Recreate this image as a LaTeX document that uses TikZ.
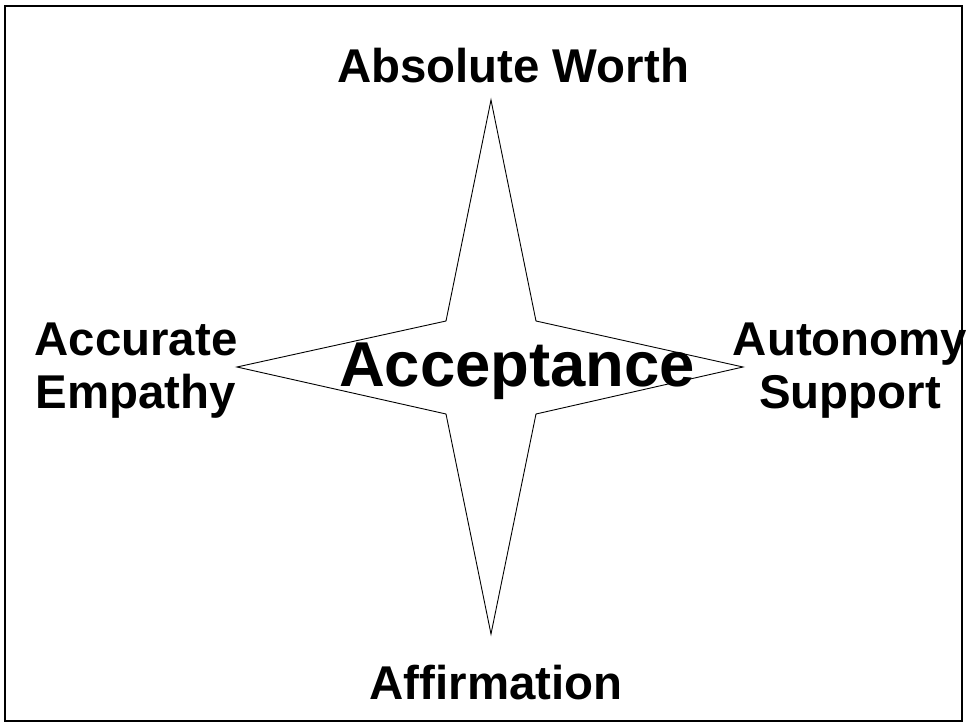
\documentclass[tikz,border=0pt]{standalone}
\usepackage{fontspec}
\setmainfont{Liberation Sans}
\usetikzlibrary{positioning}
\tikzset{
  accept/label/.style={
    font=\fontsize{47.4}{52.5}\selectfont\bfseries,
    align=center, inner sep=0pt, anchor=base
  },
  accept/title/.style={
    font=\fontsize{63.4}{70}\selectfont\bfseries,
    inner sep=0pt, anchor=base
  },
  accept/star/.style={draw=black, line width=.9pt, line join=miter},
  accept/frame/.style={draw=black, line width=2pt}
}

\begin{document}
\begin{tikzpicture}[x=1pt,y=-1pt]
  \useasboundingbox (0,0) rectangle (967,723);
  \draw[accept/frame] (5,6) rectangle (962,721);
  % four-pointed star
  \coordinate (tipN) at (491,100);
  \coordinate (tipE) at (743,367);
  \coordinate (tipS) at (491,634);
  \coordinate (tipW) at (237,367);
  \coordinate (inNE) at (536,321);
  \coordinate (inSE) at (536,414);
  \coordinate (inSW) at (446,414);
  \coordinate (inNW) at (446,321);
  \draw[accept/star] (tipN) -- (inNE) -- (tipE) -- (inSE) -- (tipS)
    -- (inSW) -- (tipW) -- (inNW) -- cycle;
  \node[accept/title] (acceptance) at (517,386) {Acceptance};
  \node[accept/label] (worth) at (513,82) {Absolute Worth};
  \node[accept/label] (empathy) at (136,408) {Accurate\\Empathy};
  \node[accept/label] (autonomy) at (850,408) {Autonomy\\Support};
  \node[accept/label] (affirm) at (496,699) {Affirmation};
\end{tikzpicture}
\end{document}
